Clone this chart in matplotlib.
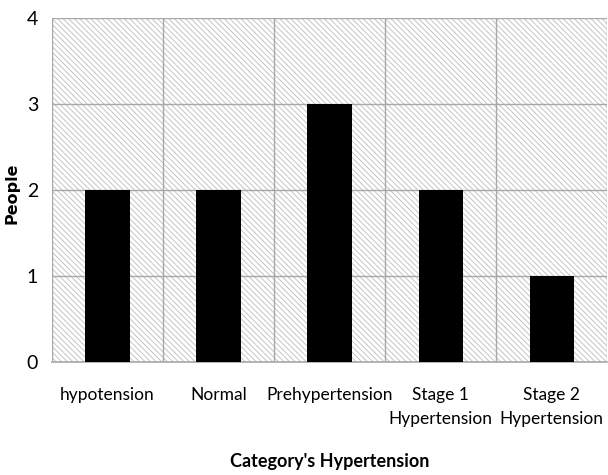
import matplotlib
matplotlib.use("Agg")
import matplotlib.pyplot as plt

categories = ["hypotension", "Normal", "Prehypertension", "Stage 1\nHypertension", "Stage 2\nHypertension"]
people = [2, 2, 3, 2, 1]
yticks = [0, 1, 2, 3, 4]

plt.rcParams['font.family'] = ['Lato', 'DejaVu Sans']
plt.rcParams['hatch.color'] = '#c4c4c4'
plt.rcParams['hatch.linewidth'] = 0.7

fig = plt.figure(figsize=(6.08, 4.75), dpi=100)
ax = fig.add_axes([0.0855, 0.238, 0.9135, 0.724])

ax.patch.set_facecolor('white')
ax.patch.set_hatch('\\' * 6)
ax.patch.set_edgecolor('#c4c4c4')

x = list(range(len(categories)))
ax.bar(x, people, width=0.4, color='black', zorder=3)

ax.set_xlim(-0.5, len(categories) - 0.5)
ax.set_ylim(0, 4)
ax.set_yticks(yticks)
ax.set_xticks(x)
ax.set_xticklabels(categories, fontsize=12.5, linespacing=1.6)
ax.tick_params(axis='y', labelsize=14, length=0, pad=10)
ax.tick_params(axis='x', length=0, pad=18)

ax.set_xticks([i + 0.5 for i in range(-1, len(categories))], minor=True)
ax.grid(axis='y', which='major', color='#a8a8a8', linewidth=1.0, zorder=2)
ax.grid(axis='x', which='minor', color='#a8a8a8', linewidth=1.0, zorder=2)
ax.tick_params(axis='x', which='minor', length=0)

for s in ['top', 'right', 'left']:
    ax.spines[s].set_visible(False)
ax.spines['bottom'].set_color('#a8a8a8')
ax.spines['bottom'].set_linewidth(1.2)

ax.set_ylabel("People", fontsize=11.5, fontweight='bold', family='DejaVu Sans')
ax.yaxis.set_label_coords(-0.058, 0.49)
ax.set_xlabel("Category's Hypertension", fontsize=13, fontweight='bold')
ax.xaxis.set_label_coords(0.5, -0.265)

fig.savefig("out.png", dpi=100)
